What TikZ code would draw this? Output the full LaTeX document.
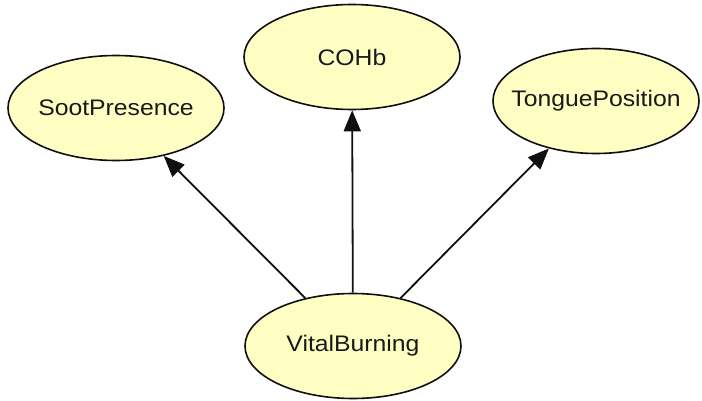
\documentclass[tikz,border=0pt]{standalone}
\usepackage{fontspec}
\setmainfont{Liberation Sans}[FakeStretch=1.1]
\usetikzlibrary{arrows.meta,shapes.geometric}
\definecolor{nodefill}{RGB}{255,255,196}
\definecolor{edgeink}{RGB}{15,15,15}
\tikzset{
  var/.style={ellipse, draw=edgeink, line width=1.6pt, fill=nodefill,
    minimum width=216pt, minimum height=105pt, inner xsep=-40pt, inner ysep=0pt,
    font=\fontsize{22.5}{26}\selectfont, text=black!90},
  link/.style={draw=edgeink, line width=1.8pt,
    -{Triangle[length=21pt,width=17pt]}}
}
\begin{document}
\begin{tikzpicture}[x=1pt,y=-1pt]
  \useasboundingbox (0,0) rectangle (702,401);
  \node[var] (soot)   at (116,108) {SootPresence};
  \node[var] (cohb)   at (352,57)  {COHb};
  \node[var, minimum width=206pt] (tongue) at (596,101) {TonguePosition};
  \node[var] (vital)  at (353,346) {VitalBurning};
  \draw[link] (vital) -- (soot);
  \draw[link] (vital) -- (cohb);
  \draw[link] (vital) -- (tongue);
\end{tikzpicture}
\end{document}
